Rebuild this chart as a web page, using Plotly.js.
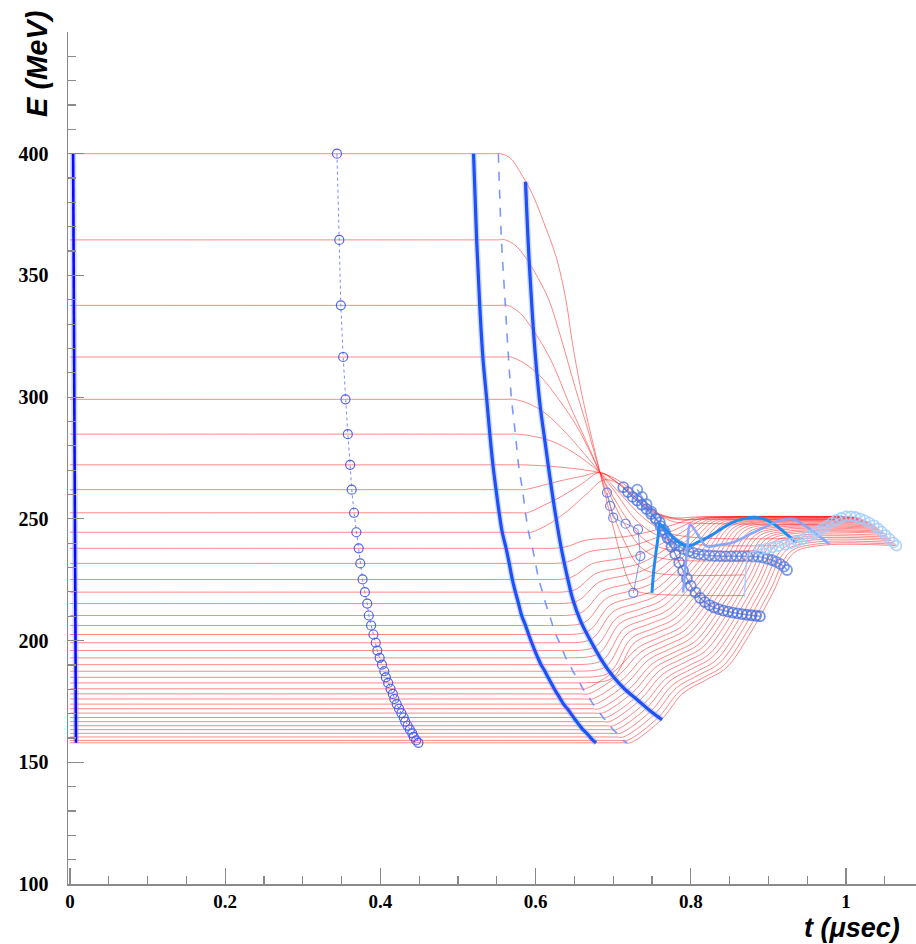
<!DOCTYPE html>
<html>
<head>
<meta charset="utf-8">
<script src="https://cdn.plot.ly/plotly-3.0.1.min.js"></script>
<style>html,body{margin:0;padding:0;background:#fff;}#chart{width:916px;height:944px;}</style>
</head>
<body>
<div id="chart"></div>
<script>
// ---- initial energies of the tracked particles (MeV) ----
const E0 = [400,364.6,337.7,316.5,299.1,284.8,272.2,262,252.5,244.5,237.9,231.7,225.1,219.9,215.2,210.3,206.2,202.5,199.1,195.9,192.9,190.1,187.4,184.9,182.6,180.2,178.1,176,173.9,172,170.2,168.4,166.7,165,163.4,161.9,160.4,159,158];

// ---- particle trajectories (knots, t in usec / E in MeV) ----
const redT = [
 [0,0.545,0.555,0.568,0.58,0.595,0.609,0.627,0.639,0.648,0.661,0.674,0.683,0.695,0.707,0.718,0.727,0.74,0.87],
 [0,0.55,0.561,0.575,0.59,0.603,0.617,0.633,0.65,0.667,0.683,0.70,0.717,0.732,0.75,0.871],
 [0,0.554,0.564,0.58,0.598,0.62,0.645,0.665,0.683,0.70,0.718,0.737,0.76,0.873],
 [0,0.558,0.568,0.585,0.606,0.63,0.655,0.683,0.70,0.72,0.742,0.77,0.885],
 [0,0.562,0.572,0.59,0.612,0.64,0.662,0.683,0.705,0.728,0.755,0.79,0.91],
 [0,0.566,0.576,0.595,0.62,0.65,0.683,0.71,0.737,0.765,0.80,0.945],
 [0,0.571,0.581,0.61,0.64,0.665,0.683,0.70,0.715,0.731,0.748,0.763,0.778,0.80,0.975],
 [0,0.575,0.585,0.606,0.63,0.66,0.683,0.70,0.72,0.74,0.76,0.785,0.82,0.988],
 [0,0.579,0.589,0.61,0.635,0.66,0.683,0.705,0.728,0.75,0.775,0.81,0.996],
 [0,0.584,0.594,0.615,0.64,0.665,0.688,0.71,0.735,0.76,0.79,0.83,1.002],
 [0,0.586,0.596,0.636,0.664,0.694,0.72,0.754,0.78,0.806,0.839,1.005],
 [0,0.591,0.601,0.641,0.669,0.699,0.725,0.759,0.785,0.811,0.844,1.007],
 [0,0.595,0.605,0.645,0.673,0.703,0.729,0.763,0.789,0.815,0.848,1.009],
 [0,0.60,0.61,0.65,0.678,0.708,0.734,0.768,0.794,0.82,0.853,1.011],
 [0,0.604,0.614,0.654,0.682,0.712,0.738,0.772,0.798,0.824,0.857,1.014],
 [0,0.609,0.619,0.659,0.687,0.717,0.743,0.777,0.803,0.829,0.862,1.016],
 [0,0.613,0.623,0.663,0.691,0.721,0.747,0.781,0.807,0.833,0.866,1.018],
 [0,0.618,0.628,0.668,0.696,0.726,0.752,0.786,0.812,0.838,0.871,1.02],
 [0,0.622,0.632,0.672,0.70,0.73,0.756,0.79,0.816,0.842,0.875,1.022],
 [0,0.627,0.637,0.677,0.705,0.735,0.761,0.795,0.821,0.847,0.88,1.024],
 [0,0.631,0.641,0.681,0.709,0.739,0.765,0.799,0.825,0.851,0.884,1.026],
 [0,0.636,0.646,0.686,0.714,0.744,0.77,0.804,0.83,0.856,0.889,1.029],
 [0,0.64,0.65,0.69,0.718,0.748,0.774,0.808,0.834,0.86,0.893,1.031],
 [0,0.645,0.655,0.695,0.723,0.753,0.779,0.813,0.839,0.865,0.898,1.033],
 [0,0.649,0.659,0.699,0.727,0.757,0.783,0.817,0.843,0.869,0.902,1.035],
 [0,0.654,0.664,0.704,0.732,0.762,0.788,0.822,0.848,0.874,0.907,1.037],
 [0,0.658,0.668,0.708,0.736,0.766,0.792,0.826,0.852,0.878,0.911,1.039],
 [0,0.663,0.673,0.713,0.741,0.771,0.797,0.831,0.857,0.883,0.916,1.041],
 [0,0.667,0.677,0.717,0.745,0.775,0.801,0.835,0.861,0.887,0.92,1.043],
 [0,0.672,0.682,0.722,0.75,0.78,0.806,0.84,0.866,0.892,0.925,1.046],
 [0,0.676,0.686,0.726,0.754,0.784,0.81,0.844,0.87,0.896,0.929,1.048],
 [0,0.681,0.691,0.731,0.759,0.789,0.815,0.849,0.875,0.901,0.934,1.05],
 [0,0.685,0.695,0.735,0.763,0.793,0.819,0.853,0.879,0.905,0.938,1.052],
 [0,0.69,0.70,0.74,0.768,0.798,0.824,0.858,0.884,0.91,0.943,1.054],
 [0,0.694,0.704,0.744,0.772,0.802,0.828,0.862,0.888,0.914,0.947,1.056],
 [0,0.699,0.709,0.749,0.777,0.807,0.833,0.867,0.893,0.919,0.952,1.058],
 [0,0.703,0.713,0.753,0.781,0.811,0.837,0.871,0.897,0.923,0.956,1.061],
 [0,0.708,0.718,0.758,0.786,0.816,0.842,0.876,0.902,0.928,0.961,1.063],
 [0,0.712,0.722,0.762,0.79,0.82,0.846,0.88,0.906,0.932,0.965,1.065]
];
const redE = [
 [400,400,400,398,392.5,384,373,357,340,321,299,281,269,253,238,226,221,219.5,218.5],
 [364.6,364.6,364.6,362,356,349,340,324,305,287,269,252,239,231,228,227],
 [337.7,337.7,337.7,334.5,327,315,296,282,269,257,246,238,234,233],
 [316.5,316.5,316.5,314,308.6,299,287,269,259,249,241,237.5,237],
 [299.1,299.1,299.1,297.5,293.5,285,277,269,260,250,243.5,240,239],
 [284.8,284.8,284.8,284,282,277,269,260,251,245,242.5,242],
 [272.2,272.2,272.2,271.8,271,270,269,267,264,260,255,251,248.8,248.3,247.5],
 [262,262,262,263.5,265.5,267.5,269,266,261,256,252,250,249.8,249.8],
 [252.5,252.5,252.5,255.5,259.5,264.5,269,265,258,253,250.5,250.8,251],
 [244.5,244.5,244.5,247.5,253,260,266,264,257,251.5,249.5,250.5,251],
 [237.9,237.9,237.9,238.3,241.2,242.1,242.9,245.4,247.8,250.4,250.9,250.9],
 [231.7,231.7,231.7,232.3,236.5,237.8,239.0,242.7,246.3,250.0,250.8,250.8],
 [225.1,225.1,225.1,225.9,231.6,233.3,234.9,239.9,244.6,249.7,250.7,250.7],
 [219.9,219.9,219.9,220.8,227.6,229.7,231.6,237.6,243.3,249.4,250.6,250.6],
 [215.2,215.2,215.2,216.3,224.1,226.5,228.7,235.6,242.1,249.1,250.5,250.5],
 [210.3,210.3,210.3,211.5,220.4,223.1,225.6,233.5,240.9,248.8,250.4,250.4],
 [206.2,206.2,206.2,207.5,217.3,220.3,223.0,231.6,239.8,248.4,250.2,250.2],
 [202.5,202.5,202.5,203.9,214.5,217.7,220.6,230.0,238.7,248.1,250.0,250.0],
 [199.1,199.1,199.1,200.6,211.9,215.3,218.4,228.3,237.7,247.7,249.7,249.7],
 [195.9,195.9,195.9,197.5,209.4,213.0,216.3,226.8,236.7,247.3,249.4,249.4],
 [192.9,192.9,192.9,194.6,207.1,210.9,214.3,225.4,235.8,246.9,249.1,249.1],
 [190.1,190.1,190.1,191.9,204.9,208.9,212.5,224.0,234.9,246.5,248.8,248.8],
 [187.4,187.4,187.4,189.2,202.8,207.0,210.7,222.7,234.0,246.1,248.5,248.5],
 [184.9,184.9,184.9,186.8,200.8,205.1,209.0,221.4,233.1,245.6,248.1,248.1],
 [182.6,182.6,182.6,184.6,199.0,203.4,207.4,220.2,232.2,245.0,247.6,247.6],
 [180.2,180.2,180.2,188.0,197.1,201.6,205.7,218.9,231.2,244.4,247.1,247.1],
 [178.1,178.1,178.1,186.1,195.4,200.0,204.2,217.7,230.4,243.9,246.6,246.6],
 [176.0,176.0,176.0,184.2,193.7,198.4,202.7,216.5,229.5,243.3,246.1,246.1],
 [173.9,173.9,173.9,182.3,192.0,196.8,201.2,215.3,228.6,242.7,245.6,245.6],
 [172.0,172.0,172.0,180.5,190.4,195.4,199.8,214.2,227.7,242.1,245.0,245.0],
 [170.2,170.2,170.2,178.9,188.9,194.0,198.5,213.1,226.9,241.5,244.5,244.5],
 [168.4,168.4,168.4,177.2,187.5,192.6,197.2,212.1,226.1,241.0,244.0,244.0],
 [166.7,166.7,166.7,175.7,186.0,191.2,195.8,210.9,225.1,240.1,243.2,243.2],
 [165.0,165.0,165.0,174.1,184.5,189.8,194.5,209.8,224.1,239.4,242.5,242.5],
 [163.4,163.4,163.4,172.6,183.2,188.5,193.3,208.7,223.2,238.7,241.8,241.8],
 [161.9,161.9,161.9,171.2,181.9,187.2,192.1,207.7,222.3,237.9,241.1,241.1],
 [160.4,160.4,160.4,169.7,180.5,186.0,190.8,206.6,221.4,237.1,240.3,240.3],
 [159.0,159.0,159.0,168.4,179.3,184.8,189.7,205.6,220.5,236.4,239.6,239.6],
 [158,158,158,167.5,178.4,183.9,188.9,204.8,219.8,235.8,239.0,239.0]
];

// ---- snapshots of the bunch ----
const s0T = [0.004,0.0077];
const s0E = [400,158];
const s1T = [0.344,0.347,0.349,0.352,0.355,0.358,0.361,0.363,0.366,0.369,0.372,0.374,0.377,0.38,0.383,0.385,0.388,0.391,0.394,0.396,0.399,0.402,0.405,0.407,0.41,0.413,0.416,0.418,0.421,0.424,0.427,0.43,0.432,0.435,0.438,0.441,0.443,0.446,0.449];
const s2T = [0.52,0.524,0.528,0.532,0.537,0.541,0.545,0.549,0.553,0.557,0.562,0.566,0.57,0.574,0.578,0.582,0.587,0.591,0.595,0.599,0.603,0.607,0.612,0.616,0.62,0.624,0.628,0.632,0.636,0.641,0.645,0.649,0.653,0.657,0.661,0.666,0.67,0.674,0.678];
const s3T = [0.552,0.556,0.561,0.565,0.569,0.574,0.578,0.583,0.587,0.591,0.596,0.6,0.604,0.609,0.613,0.618,0.622,0.626,0.631,0.635,0.639,0.644,0.648,0.653,0.657,0.661,0.666,0.67,0.674,0.679,0.683,0.687,0.692,0.696,0.7,0.705,0.709,0.713,0.718];
const s4T = [0.587,0.591,0.596,0.601,0.606,0.612,0.618,0.625,0.633,0.641,0.648,0.658,0.67,0.685,0.70,0.715,0.731,0.747,0.763];
const s4E = [388.5,360,333,312,296,282,268,253,238,226,216.9,208,200.4,192,185.2,180,175.7,171.3,167.5];
const s5T = [0.692,0.696,0.70,0.716,0.732,0.735,0.726];
const s5E = [260.8,255.3,250.5,248,245.7,234.7,219.6];
const s6T = [0.713,0.719,0.725,0.731,0.737,0.743,0.749,0.755,0.76,0.765,0.77,0.775,0.78,0.785,0.79,0.795,0.80,0.806,0.812,0.818,0.824,0.83,0.836,0.842,0.848,0.854,0.86,0.866,0.872,0.878,0.884,0.889];
const s6E = [263,261,259,257.5,255.8,254,252,250,248.6,245.5,242.2,238.5,235.5,232,228.7,225.5,222.5,219.8,217.5,215.8,214.6,213.6,212.9,212.3,211.9,211.5,211.2,210.9,210.6,210.4,210.2,210];
const s7T = [0.731,0.737,0.743,0.749,0.755,0.761,0.767,0.773,0.779,0.785,0.791,0.797,0.803,0.81,0.817,0.824,0.831,0.838,0.845,0.852,0.859,0.866,0.873,0.88,0.887,0.893,0.899,0.905,0.91,0.915,0.92,0.924];
const s7E = [262,259,256,253,250,247,244.3,241.6,240,238.8,237.6,236.7,236,235.5,235.2,235,234.8,234.7,234.6,234.6,234.6,234.6,234.6,234.5,234.4,234.1,233.6,233,232.3,231.5,230.4,229];
const s8T = [0.75,0.752,0.755,0.758,0.76,0.768,0.78,0.795,0.81,0.825,0.84,0.854,0.87,0.885,0.898,0.911,0.924,0.936];
const s8E = [219.6,228,236,243,247.7,245.5,241.5,238.8,240.5,243,246,248.6,250.2,250.6,249.5,247,243.5,240.3];
const s9T = [0.79,0.793,0.796,0.799,0.808,0.82,0.835,0.854,0.875,0.898,0.915,0.932,0.948,0.965,0.979];
const s9E = [219.7,230,240,247.7,244,238.8,239.2,240.3,243.5,247,249.3,249.8,247,243,239.5];
const s10tailT = [0.869,0.87,0.872,0.878,0.889];
const s10tailE = [218,226,234.6,236.5,237.4];
const s10T = [0.889,0.897,0.905,0.913,0.921,0.929,0.937,0.944,0.951,0.958,0.964,0.97,0.976,0.982,0.988,0.994,1.0,1.006,1.012,1.018,1.024,1.03,1.036,1.041,1.046,1.051,1.056,1.061,1.065];
const s10E = [237.4,237.8,238.3,238.8,239.4,240,240.8,241.6,242.6,243.7,244.9,246.1,247.3,248.5,249.6,250.5,251,251.1,250.8,250.2,249.4,248.5,247.4,246.1,244.8,243.3,241.8,240.3,239];

// ---- axis ticks ----
const yTickVals = [100,150,200,250,300,350,400,450];
const yTickText = ['100','150','200','250','300','350','400',''];
const xTickVals = [0,0.2,0.4,0.6,0.8,1];
const xTickText = ['0','0.2','0.4','0.6','0.8','1'];

const traces = [];
for (let i = 0; i < redT.length; i++) {
  traces.push({x: redT[i], y: redE[i], mode:'lines',
    line:{color:'rgba(255,40,40,0.55)', width:1, shape:'spline', smoothing:1}});
}
// snapshot at production
traces.push({x:s0T, y:s0E, mode:'lines', line:{color:'rgba(120,140,255,0.35)', width:6}});
traces.push({x:s0T, y:s0E, mode:'lines', line:{color:'#0a0aff', width:2.6}});
// drift snapshot with circles
traces.push({x:s1T, y:E0, mode:'lines+markers', line:{color:'rgba(90,110,255,0.8)', width:1, dash:'dot'},
  marker:{symbol:'circle-open', size:9, color:'rgba(70,90,245,0.95)', line:{width:1.2}}});
// thick drift snapshot
traces.push({x:s2T, y:E0, mode:'lines', line:{color:'rgba(130,160,255,0.4)', width:6, shape:'spline'}});
traces.push({x:s2T, y:E0, mode:'lines', line:{color:'#1f50f5', width:3.2, shape:'spline'}});
// thin dashed snapshot
traces.push({x:s3T, y:E0, mode:'lines', line:{color:'rgba(110,140,255,0.9)', width:1.6, dash:'dash', shape:'spline'}});
// thick snapshot at start of rotation
traces.push({x:s4T, y:s4E, mode:'lines', line:{color:'rgba(130,160,255,0.4)', width:6, shape:'spline'}});
traces.push({x:s4T, y:s4E, mode:'lines', line:{color:'#1f50f5', width:3.2, shape:'spline'}});
// sparse snapshot
traces.push({x:s5T, y:s5E, mode:'lines+markers', line:{color:'rgba(100,130,235,0.8)', width:1},
  marker:{symbol:'circle-open', size:9, color:'rgba(90,120,230,0.9)', line:{width:1.2}}});
// circle snapshots
traces.push({x:s6T, y:s6E, mode:'lines+markers', line:{color:'rgba(70,110,225,0.7)', width:1.5, shape:'spline'},
  marker:{symbol:'circle-open', size:10, color:'rgba(70,110,225,0.75)', line:{width:1.8}}});
traces.push({x:s7T, y:s7E, mode:'lines+markers', line:{color:'rgba(80,125,230,0.7)', width:1.5, shape:'spline'},
  marker:{symbol:'circle-open', size:10, color:'rgba(80,125,230,0.75)', line:{width:1.8}}});
// line snapshots in the rotated region
traces.push({x:s8T, y:s8E, mode:'lines', line:{color:'#1e8cf5', width:3, shape:'spline'}});
traces.push({x:s9T, y:s9E, mode:'lines', line:{color:'rgba(130,165,255,0.95)', width:2.6, shape:'spline'}});
traces.push({x:s10tailT, y:s10tailE, mode:'lines', line:{color:'rgba(170,205,255,0.9)', width:1.5}});
traces.push({x:s10T, y:s10E, mode:'lines+markers', line:{color:'rgba(170,210,255,0.8)', width:1.2, shape:'spline'},
  marker:{symbol:'circle-open', size:10, color:'rgba(160,205,255,0.85)', line:{width:1.6}}});

traces.forEach(t => { t.type = 'scatter'; t.showlegend = false; t.hoverinfo = 'skip'; });

const axisCommon = {
  showgrid:false, zeroline:false, showline:true, linecolor:'#8a8a8a', linewidth:1.5,
  ticks:'inside', tickcolor:'#8a8a8a', tickwidth:1.2, ticklen:16, mirror:false
};

const layout = {
  width:916, height:944,
  margin:{l:68, r:0, t:32, b:60},
  paper_bgcolor:'#fff', plot_bgcolor:'#fff',
  showlegend:false,
  xaxis: Object.assign({}, axisCommon, {
    range:[-0.0026, 1.0902], tickmode:'array', tickvals:xTickVals, ticktext:xTickText,
    tickfont:{family:'Liberation Serif', size:19, color:'#000', weight:'bold'},
    minor:{dtick:0.05, tick0:0, ticks:'inside', ticklen:8, tickcolor:'#8a8a8a', tickwidth:1.2, showgrid:false},
    ticklabelstandoff:0
  }),
  yaxis: Object.assign({}, axisCommon, {
    range:[100, 450], tickmode:'array', tickvals:yTickVals, ticktext:yTickText,
    tickfont:{family:'Liberation Serif', size:20, color:'#000', weight:'bold'},
    minor:{dtick:10, tick0:100, ticks:'inside', ticklen:8, tickcolor:'#8a8a8a', tickwidth:1.2, showgrid:false},
    ticklabelstandoff:14
  }),
  annotations:[
    {text:'<b><i>E (MeV)</i></b>', xref:'paper', yref:'paper', x:-0.0366, y:0.9624, textangle:-90,
     showarrow:false, xanchor:'center', yanchor:'middle', font:{family:'Liberation Sans', size:29, color:'#000'}},
    {text:'<b><i>t (μsec)</i></b>', xref:'paper', yref:'paper', x:0.924, y:-0.0518,
     showarrow:false, xanchor:'center', yanchor:'middle', borderpad:0, font:{family:'Liberation Sans', size:27, color:'#000'}}
  ]
};

Plotly.newPlot('chart', traces, layout, {displayModeBar:false, staticPlot:true});
</script>
</body>
</html>
